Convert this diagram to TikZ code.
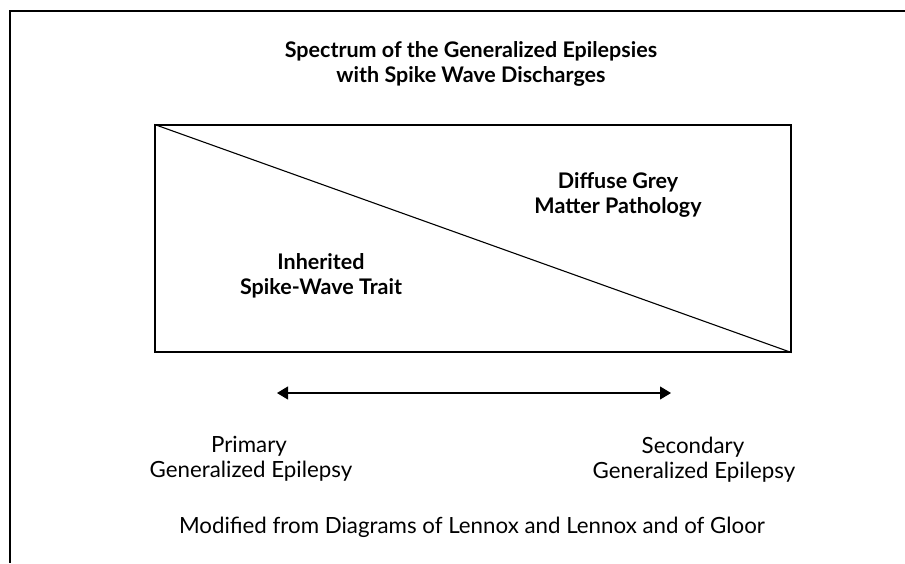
\documentclass[tikz,border=0pt]{standalone}
\usepackage{fontspec}
\setmainfont{Lato}
\usetikzlibrary{arrows.meta}
\tikzset{
  lbl/.style={anchor=base, inner sep=0pt, font=\fontsize{22.3}{26}\selectfont},
  blbl/.style={anchor=base, inner sep=0pt, font=\fontsize{21.5}{26}\selectfont\bfseries},
  frame/.style={line width=2.4pt},
  boxline/.style={line width=1.1pt}
}
\begin{document}
\begin{tikzpicture}[x=1pt,y=-1pt]
\useasboundingbox (0,0) rectangle (905,563);
% outer frame
\coordinate (ftr) at (905,11);
\coordinate (ftl) at (10,11);
\coordinate (fbl) at (10,563);
\draw[frame] (ftr) -- (ftl) -- (fbl);
% title
\node[blbl] (t1) at (471,57) {Spectrum of the Generalized Epilepsies};
\node[blbl] (t2) at (471,82) {with Spike Wave Discharges};
% box
\node[draw, boxline, minimum width=636pt, minimum height=227pt, inner sep=0pt] (box) at (473,238.5) {};
\draw[boxline] (box.north west) -- (box.south east);
% labels
\node[blbl] (d1) at (618,188) {Diffuse Grey};
\node[blbl] (d2) at (618,213) {Matter Pathology};
\node[blbl] (i1) at (321,269) {Inherited};
\node[blbl] (i2) at (321,294) {Spike-Wave Trait};
% arrow
\coordinate (al) at (277,393);
\coordinate (ar) at (671,393);
\draw[boxline, {Triangle[length=11pt,width=13pt]}-{Triangle[length=11pt,width=13pt]}] (al) -- (ar);
% bottom labels
\node[lbl] (p1) at (249,452) {Primary};
\node[lbl] (p2) at (251,477) {Generalized Epilepsy};
\node[lbl] (s1) at (693,453) {Secondary};
\node[lbl] (s2) at (694,478) {Generalized Epilepsy};
\node[lbl] (m) at (472,533) {Modified from Diagrams of Lennox and Lennox and of Gloor};
\end{tikzpicture}
\end{document}
